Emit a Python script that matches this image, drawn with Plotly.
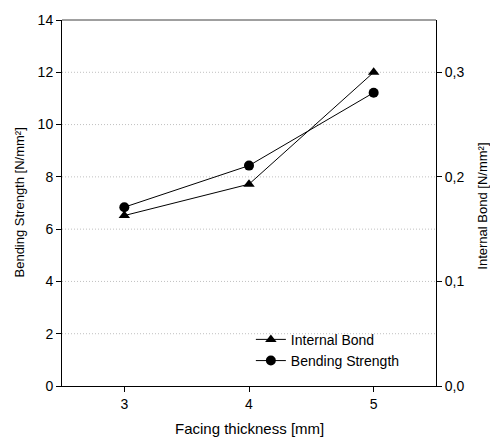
import plotly.graph_objects as go

thickness = [3, 4, 5]
bending_strength = [6.84, 8.43, 11.22]
internal_bond = [0.163, 0.193, 0.30]

left_ticks = [0, 2, 4, 6, 8, 10, 12, 14]
right_ticks = [0.0, 0.1, 0.2, 0.3]
right_labels = ["0,0", "0,1", "0,2", "0,3"]

FONT = "Liberation Sans, Arial"
font = dict(family=FONT, size=13, color="black")

fig = go.Figure()
fig.add_trace(go.Scatter(
    x=thickness, y=internal_bond, name="Internal Bond", yaxis="y2",
    mode="lines+markers",
    line=dict(color="black", width=1),
    marker=dict(symbol="triangle-up", size=10, color="black"),
))
fig.add_trace(go.Scatter(
    x=thickness, y=bending_strength, name="Bending Strength", yaxis="y",
    mode="lines+markers",
    line=dict(color="black", width=1),
    marker=dict(symbol="circle", size=10, color="black"),
))

fig.update_layout(
    width=490, height=439,
    margin=dict(l=62, r=54, t=13, b=53),
    paper_bgcolor="white", plot_bgcolor="white",
    font=font,
    showlegend=True,
    legend=dict(x=0.505, y=0.17, xanchor="left", yanchor="top",
                bgcolor="rgba(0,0,0,0)", font=dict(family=FONT, size=14),
                tracegroupgap=0, itemwidth=30),
    xaxis=dict(range=[2.5, 5.5], tickvals=thickness, ticks="outside",
               ticklen=5, tickcolor="black", showline=True, linecolor="black",
               linewidth=1, mirror=False, showgrid=False, zeroline=False,
               tickfont=dict(size=14)),
    yaxis=dict(range=[0, 14], tickvals=left_ticks, ticks="outside", ticklen=5,
               tickcolor="black", showline=True, linecolor="black", linewidth=1,
               showgrid=False, zeroline=False, tickfont=dict(size=14)),
    yaxis2=dict(range=[0, 0.35], tickvals=right_ticks, ticktext=right_labels,
                overlaying="y", side="right", ticks="outside", ticklen=5,
                tickcolor="black", showline=True, linecolor="black", linewidth=1,
                showgrid=False, zeroline=False, tickfont=dict(size=14)),
)

# axis titles as annotations
fig.add_annotation(text="Facing thickness [mm]", xref="paper", yref="paper",
                   x=0.5, y=0, yshift=-42, showarrow=False,
                   font=dict(family=FONT, size=15), xanchor="center", yanchor="middle")
fig.add_annotation(text="Bending Strength [N/mm²]", xref="paper", yref="paper",
                   x=0, xshift=-43.5, y=0.5, textangle=-90, showarrow=False,
                   font=dict(family=FONT, size=13), xanchor="center", yanchor="middle")
fig.add_annotation(text="Internal Bond [N/mm²]", xref="paper", yref="paper",
                   x=1, xshift=47, y=0.49, textangle=-90, showarrow=False,
                   font=dict(family=FONT, size=13), xanchor="center", yanchor="middle")

# dotted gridlines at left-axis ticks (2..12) and top frame line
for v in left_ticks[1:-1]:
    fig.add_shape(type="line", xref="paper", yref="y", x0=0, x1=1, y0=v, y1=v,
                  line=dict(color="#c0c0c0", width=1, dash="1px,2px"), layer="below")
fig.add_shape(type="line", xref="paper", yref="paper", x0=0, x1=1, y0=1, y1=1,
              line=dict(color="#404040", width=1))

fig.write_html("out.html", config={"displayModeBar": False},
               post_script="document.body.style.margin='0';document.body.style.overflow='hidden';")
